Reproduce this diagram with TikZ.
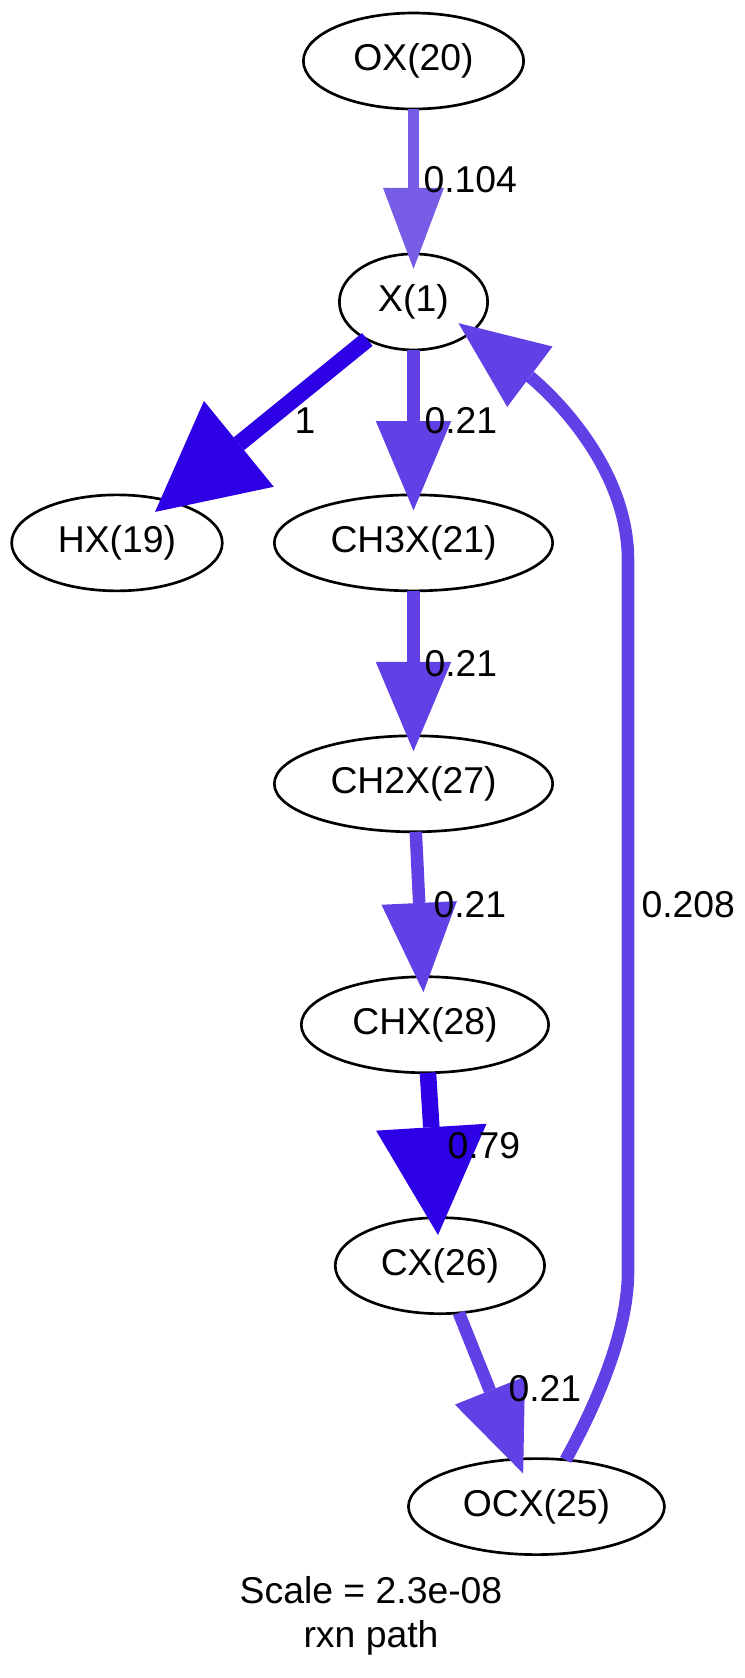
\documentclass[tikz,border=0pt]{standalone}
\usepackage{fontspec}
\setmainfont{Liberation Sans}
\usetikzlibrary{arrows.meta, positioning, shapes.geometric}
\definecolor{fluxoforte}{HTML}{2E00E6}
\definecolor{fluxomedio}{HTML}{6140E6}
\definecolor{fluxofraco}{HTML}{775CE6}

\begin{document}
\begin{tikzpicture}[
      x=0.375pt, y=-0.375pt,
      node distance=54.35pt,
      especie/.style={draw, ellipse, line width=1pt, minimum height=36pt,
                      inner sep=0pt, outer sep=0pt, font=\fontsize{14}{16.8}\selectfont},
      rotulo/.style={inner sep=0pt, anchor=west, font=\fontsize{14}{16.8}\selectfont},
      seta/.style={line width=4.7pt, color=fluxomedio, shorten >=-5.8pt,
                   -{Triangle[length=33.5pt, width=28.3pt, line width=0pt]}},
      setaforte/.style={line width=6.2pt, color=fluxoforte, shorten >=-6.5pt,
                   -{Triangle[length=40.5pt, width=41.5pt, line width=0pt]}},
      setafraca/.style={line width=4.3pt, color=fluxofraco, shorten >=-5.6pt,
                   -{Triangle[length=30.4pt, width=22.9pt, line width=0pt]}}
    ]
    \useasboundingbox (0,0) rectangle (745,1678);
    \node[especie, minimum width=82.6pt] (ox) at (413.5,61) {OX(20)};
    \node[especie, minimum width=55.6pt, below=of ox] (x) {X(1)};
    \node[especie, minimum width=104.4pt, below=of x] (ch3x) {CH3X(21)};
    \node[especie, minimum width=79pt, left=19.5pt of ch3x] (hx) {HX(19)};
    \node[especie, minimum width=104.4pt, below=of ch3x] (ch2x) {CH2X(27)};
    \node[especie, minimum width=92.75pt, below=of ch2x, xshift=4.3pt] (chx) {CHX(28)};
    \node[especie, minimum width=78.5pt, below=of chx, xshift=5.6pt] (cx) {CX(26)};
    \node[especie, minimum width=96pt, below=of cx, xshift=36.2pt] (ocx) {OCX(25)};
    \coordinate (volta1) at (628,1272);
    \coordinate (volta2) at (628,560);
    \draw[setafraca] (ox) -- (x);
    \draw[setaforte] (x) -- (hx);
    \draw[seta] (x) -- (ch3x);
    \draw[seta] (ch3x) -- (ch2x);
    \draw[seta] (ch2x) -- (chx);
    \draw[setaforte] (chx) -- (cx);
    \draw[seta] (cx) -- (ocx);
    \draw[seta] (ocx.58) .. controls +(25,-45) and +(0,65) .. (volta1) -- (volta2)
      .. controls +(0,-105) and +(60,45) .. (x.-28);
    \node[rotulo] (l0104) at (423,180) {0.104};
    \node[rotulo, anchor=center] (l1) at (305,421) {1};
    \node[rotulo] (l021a) at (424,421) {0.21};
    \node[rotulo] (l021b) at (424,664) {0.21};
    \node[rotulo] (l021c) at (433,905) {0.21};
    \node[rotulo] (l0208) at (641,905) {0.208};
    \node[rotulo] (l079) at (447,1146) {0.79};
    \node[rotulo] (l021d) at (508,1389) {0.21};
    \node[rotulo, anchor=base] (escala) at (371,1603) {Scale = 2.3e-08};
    \node[rotulo, anchor=base] (rxn) at (371,1647) {rxn path};
  \end{tikzpicture}
\end{document}
